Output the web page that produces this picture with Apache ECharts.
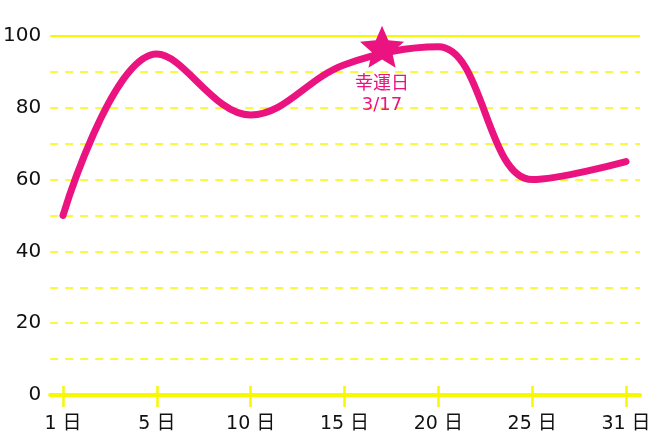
<!DOCTYPE html>
<html><head><meta charset="utf-8">
<script src="https://cdn.jsdelivr.net/npm/echarts@6/dist/echarts.min.js"></script>
<style>html,body{margin:0;padding:0;background:#fff}#c{width:660px;height:440px}</style>
</head><body><div id="c"></div>
<script>
const days = ['1', '5', '10', '15', '20', '25', '31'];
const values = [50, 95, 78, 92, 97, 60, 65];
const yTicks = [0, 20, 40, 60, 80, 100];
const luckyDay = 17;
const luckyValue = 97;
const luckyLabel = '幸運日\n3/17';

const PINK = '#EA1380';
const YEL = '#F8F800';
const FONT = "'DejaVu Sans', 'Noto Sans CJK JP', sans-serif";

const dayNums = days.map(Number);
function dayToIndex(d) {
  for (let i = 0; i < dayNums.length - 1; i++) {
    if (d >= dayNums[i] && d <= dayNums[i + 1]) return i + (d - dayNums[i]) / (dayNums[i + 1] - dayNums[i]);
  }
  return dayNums.length - 1;
}
const lineData = values.map((v, i) => [i, v]);

// five-pointed star path
function starPath() {
  const pts = [];
  for (let k = 0; k < 10; k++) {
    const r = k % 2 === 0 ? 50 : 23;
    const a = -Math.PI / 2 + k * Math.PI / 5;
    pts.push((50 + r * Math.cos(a)).toFixed(2) + ',' + (50 + r * Math.sin(a)).toFixed(2));
  }
  return 'path://M' + pts.join(' L') + ' Z';
}

const chart = echarts.init(document.getElementById('c'));
chart.setOption({
  animation: false,
  grid: [
    {left: 49, right: 20, top: 36, bottom: 45},
    {left: 63, right: 34, top: 36, bottom: 45}
  ],
  xAxis: [
    {gridIndex: 0, type: 'value', min: 0, max: 1, axisLine: {show: true, lineStyle: {color: YEL, width: 4}},
     axisTick: {show: false}, axisLabel: {show: false}, splitLine: {show: false}},
    {gridIndex: 1, type: 'value', min: 0, max: 6, interval: 1, position: 'bottom',
     axisLine: {show: false}, splitLine: {show: false},
     axisTick: {show: true, length: 12, lineStyle: {color: YEL, width: 2.5}},
     axisLabel: {margin: 20, color: '#111', fontSize: 19, fontFamily: FONT,
       formatter: v => days[Math.round(v)] + ' 日'}},
    {gridIndex: 1, type: 'value', min: 0, max: 6, interval: 1, position: 'bottom',
     axisLine: {show: false}, splitLine: {show: false}, axisLabel: {show: false},
     axisTick: {show: true, inside: true, length: 9, lineStyle: {color: YEL, width: 2.5}}}
  ],
  yAxis: [
    {gridIndex: 0, type: 'value', min: 0, max: 100, interval: 10,
     axisLine: {show: false}, axisTick: {show: false},
     axisLabel: {margin: 9, color: '#111', fontSize: 20, fontFamily: FONT,
       formatter: v => yTicks.includes(v) ? String(v) : ''},
     splitLine: {show: true, lineStyle: {color: YEL, width: 1.5, type: [8, 7]}}},
    {gridIndex: 0, type: 'value', min: 0, max: 100, interval: 100, position: 'left',
     axisLine: {show: false}, axisTick: {show: false}, axisLabel: {show: false},
     splitLine: {show: true, lineStyle: {color: YEL, width: 2, type: 'solid'}}},
    {gridIndex: 1, type: 'value', min: 0, max: 100, show: false, splitLine: {show: false}}
  ],
  series: [
    {type: 'line', xAxisIndex: 1, yAxisIndex: 2, data: lineData, smooth: 0.38,
     symbol: 'none', lineStyle: {color: PINK, width: 7, cap: 'round', join: 'round'}, z: 3},
    {type: 'scatter', xAxisIndex: 1, yAxisIndex: 2, data: [[dayToIndex(luckyDay), luckyValue]],
     symbol: starPath(), symbolSize: 44, symbolKeepAspect: true,
     itemStyle: {color: PINK, opacity: 1}, z: 4,
     label: {show: true, position: 'bottom', distance: 6, formatter: luckyLabel, color: PINK,
       fontSize: 18, lineHeight: 21, fontFamily: FONT, align: 'center'}}
  ]
});
</script></body></html>
